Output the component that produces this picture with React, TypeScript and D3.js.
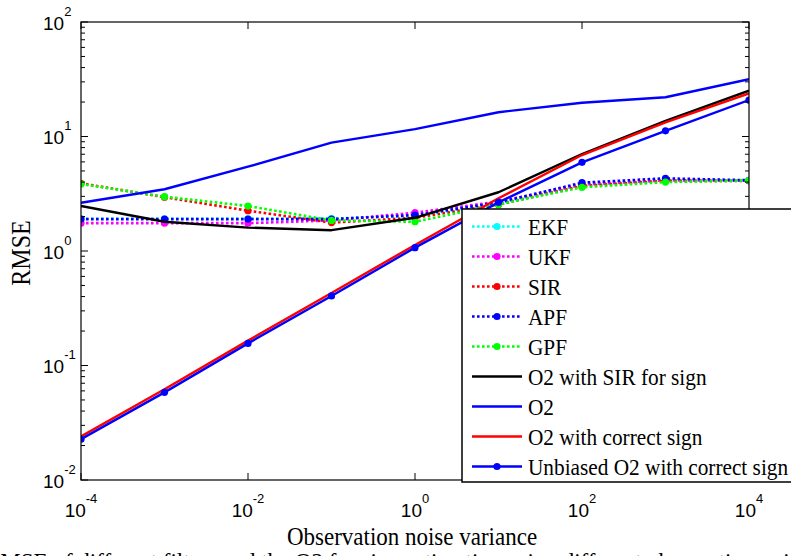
import React from "react";
import * as d3 from "d3";

// Observation noise variance (x) for each run
const noiseVariance = [1e-4, 1e-3, 1e-2, 1e-1, 1e0, 1e1, 1e2, 1e3, 1e4];

// RMSE of each estimator
const ekf = [1.91, 1.91, 1.91, 1.92, 2.02, 2.6, 3.8, 4.15, 4.1];
const ukf = [1.75, 1.75, 1.75, 1.85, 2.16, 2.7, 3.8, 4.15, 4.1];
const sir = [3.9, 2.95, 2.25, 1.77, 1.95, 2.55, 3.7, 4.1, 4.1];
const apf = [1.9, 1.9, 1.9, 1.9, 2.06, 2.65, 3.95, 4.31, 4.15];
const gpf = [3.85, 2.98, 2.47, 1.85, 1.8, 2.55, 3.6, 4.0, 4.13];
const o2SirSign = [2.47, 1.8, 1.6, 1.52, 1.95, 3.26, 7.03, 13.7, 25.1];
const o2 = [2.64, 3.46, 5.45, 8.83, 11.6, 16.3, 19.7, 22.0, 31.6];
const o2CorrectSign = [0.024, 0.062, 0.165, 0.43, 1.13, 2.89, 6.89, 13.3, 23.8];
const o2Unbiased = [0.0227, 0.0583, 0.156, 0.405, 1.07, 2.66, 5.95, 11.2, 20.8];

// Axis tick labels (powers of ten)
const xTickExponents = [-4, -2, 0, 2, 4];
const yTickExponents = [-2, -1, 0, 1, 2];

type Series = {
  name: string;
  values: number[];
  color: string;
  dotted: boolean;
  markers: boolean;
};

const series: Series[] = [
  { name: "EKF", values: ekf, color: "#00ffff", dotted: true, markers: true },
  { name: "UKF", values: ukf, color: "#ff00ff", dotted: true, markers: true },
  { name: "SIR", values: sir, color: "#ff0000", dotted: true, markers: true },
  { name: "APF", values: apf, color: "#0000ff", dotted: true, markers: true },
  { name: "GPF", values: gpf, color: "#00ff00", dotted: true, markers: true },
  { name: "O2 with SIR for sign", values: o2SirSign, color: "#000000", dotted: false, markers: false },
  { name: "O2", values: o2, color: "#0000ff", dotted: false, markers: false },
  { name: "O2 with correct sign", values: o2CorrectSign, color: "#ff0000", dotted: false, markers: false },
  { name: "Unbiased O2 with correct sign", values: o2Unbiased, color: "#0000ff", dotted: false, markers: true },
];

const W = 791;
const H = 556;
const plot = { left: 81, right: 749, top: 22, bottom: 480 };

const serif = "'Liberation Serif', 'Times New Roman', serif";
const sans = "'Liberation Sans', Arial, Helvetica, sans-serif";

export default function App() {
  const x = d3.scaleLog().domain([1e-4, 1e4]).range([plot.left, plot.right]);
  const y = d3.scaleLog().domain([1e-2, 1e2]).range([plot.bottom, plot.top]);

  const line = d3
    .line<number>()
    .x((_, i) => x(noiseVariance[i]))
    .y((d) => y(d));

  // minor ticks on the log y axis: 2..9 within each decade
  const yMinor: number[] = [];
  for (let e = -2; e < 2; e++) {
    for (let m = 2; m <= 9; m++) yMinor.push(m * Math.pow(10, e));
  }

  const legend = { x: 462, y: 209, w: 340, h: 273 };
  const rowY = (i: number) => 226.5 + 30 * i;

  return (
    <svg
      width={W}
      height={H}
      viewBox={`0 0 ${W} ${H}`}
      style={{ position: "absolute", left: 0, top: 0, background: "#fff" }}
    >
      <rect x={0} y={0} width={W} height={H} fill="#fff" />
      <defs>
        <clipPath id="plotClip">
          <rect x={plot.left} y={plot.top} width={plot.right - plot.left} height={plot.bottom - plot.top} />
        </clipPath>
      </defs>

      {/* data series */}
      <g clipPath="url(#plotClip)">
        {series.map((s) => (
          <g key={s.name}>
            <path
              d={line(s.values) || ""}
              fill="none"
              stroke={s.color}
              strokeWidth={s.dotted ? 2.6 : 2.4}
              strokeDasharray={s.dotted ? "2.6,2.4" : undefined}
              strokeLinejoin="round"
            />
            {s.markers &&
              s.values.map((v, i) => (
                <circle key={i} cx={x(noiseVariance[i])} cy={y(v)} r={3.6} fill={s.color} />
              ))}
          </g>
        ))}
      </g>

      {/* axes box */}
      <rect
        x={plot.left}
        y={plot.top}
        width={plot.right - plot.left}
        height={plot.bottom - plot.top}
        fill="none"
        stroke="#000"
        strokeWidth={1.2}
      />

      {/* x ticks (bottom and top) */}
      {xTickExponents.map((e) => {
        const px = x(Math.pow(10, e));
        return (
          <g key={`xt${e}`}>
            <line x1={px} x2={px} y1={plot.bottom} y2={plot.bottom - 7} stroke="#000" strokeWidth={1} />
            <line x1={px} x2={px} y1={plot.top} y2={plot.top + 7} stroke="#000" strokeWidth={1} />
            <text x={px} y={517} fontFamily={sans} fontSize={19} textAnchor="middle" fill="#000">
              <tspan>10</tspan>
              <tspan fontSize={13} dy={-14}>{e}</tspan>
            </text>
          </g>
        );
      })}

      {/* y ticks (left and right) */}
      {yTickExponents.map((e) => {
        const py = y(Math.pow(10, e));
        return (
          <g key={`yt${e}`}>
            <line x1={plot.left} x2={plot.left + 7} y1={py} y2={py} stroke="#000" strokeWidth={1} />
            <line x1={plot.right} x2={plot.right - 7} y1={py} y2={py} stroke="#000" strokeWidth={1} />
            <text x={43} y={py + 7.5} fontFamily={sans} fontSize={19} fill="#000">
              <tspan>10</tspan>
              <tspan fontSize={13} dy={-14}>{e}</tspan>
            </text>
          </g>
        );
      })}
      {yMinor.map((v, i) => (
        <g key={`ym${i}`}>
          <line x1={plot.left} x2={plot.left + 4} y1={y(v)} y2={y(v)} stroke="#000" strokeWidth={1} />
          <line x1={plot.right} x2={plot.right - 4} y1={y(v)} y2={y(v)} stroke="#000" strokeWidth={1} />
        </g>
      ))}

      {/* axis titles */}
      <text
        transform="translate(412,545) scale(1,1.08)"
        fontFamily={serif}
        fontSize={23}
        textAnchor="middle"
        fill="#000"
      >
        Observation noise variance
      </text>
      <text
        transform="translate(30,253) rotate(-90) scale(1,1.15)"
        fontFamily={serif}
        fontSize={24}
        textAnchor="middle"
        fill="#000"
      >
        RMSE
      </text>

      {/* legend */}
      <g>
        <rect
          x={legend.x}
          y={legend.y}
          width={legend.w}
          height={legend.h}
          fill="#fff"
          stroke="#000"
          strokeWidth={1.5}
        />
        {series.map((s, i) => {
          const cy = rowY(i);
          return (
            <g key={`lg${s.name}`}>
              <line
                x1={472}
                x2={522}
                y1={cy}
                y2={cy}
                stroke={s.color}
                strokeWidth={s.dotted ? 2.6 : 2.4}
                strokeDasharray={s.dotted ? "2.6,2.4" : undefined}
              />
              {s.markers && <circle cx={497} cy={cy} r={3.6} fill={s.color} />}
              <text
                transform={`translate(528,${cy + 8}) scale(1,1.1)`}
                fontFamily={serif}
                fontSize={21.3}
                fill="#000"
              >
                {s.name}
              </text>
            </g>
          );
        })}
      </g>

      {/* caption line running off the bottom edge */}
      <text x={-15} y={569} fontFamily={serif} fontSize={23} fill="#000">
        RMSE of different filters and the O2 for sign estimation using different observation noise variances
      </text>
    </svg>
  );
}
